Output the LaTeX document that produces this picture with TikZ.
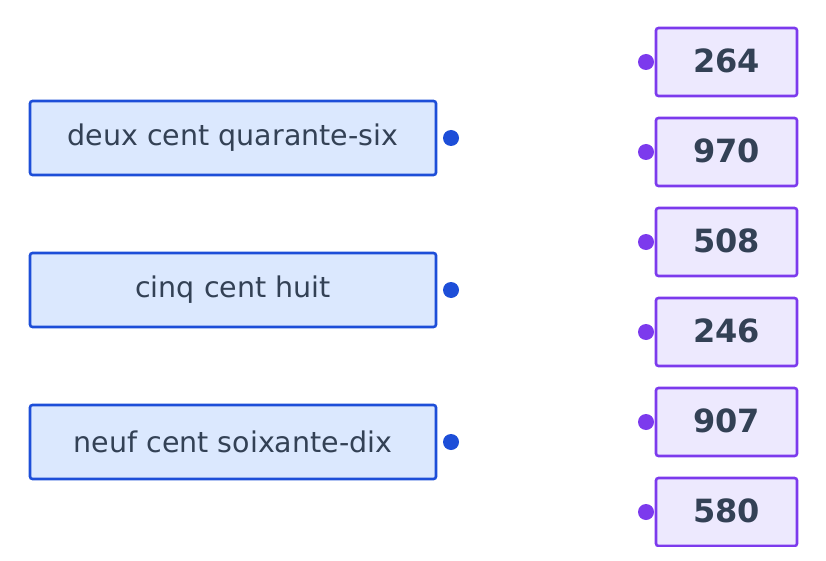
\documentclass[tikz,border=0pt]{standalone}
\usepackage{fontspec}
\setmainfont{DejaVu Sans}
\begin{document}
\begin{tikzpicture}[x=1pt,y=-1pt,
 lbox/.style={draw=lb,fill=lf,line width=2.6pt,rounded corners=2.5pt,minimum width=406pt,minimum height=74pt,text=tx,font=\fontsize{28.5}{32}\selectfont,inner sep=0pt},
 rbox/.style={draw=rb,fill=rf,line width=2.6pt,rounded corners=2.5pt,minimum width=141pt,minimum height=68pt,text=tx,font=\fontsize{32}{36}\selectfont\bfseries,inner sep=0pt},
 ldot/.style={circle,fill=lb,minimum size=16pt,inner sep=0pt},
 rdot/.style={circle,fill=rb,minimum size=16pt,inner sep=0pt}]
\definecolor{lb}{HTML}{1D4ED8}\definecolor{lf}{HTML}{DBE8FE}
\definecolor{rb}{HTML}{7C3AED}\definecolor{rf}{HTML}{EDE9FE}
\definecolor{tx}{HTML}{334155}
\useasboundingbox (0,0) rectangle (826,561);
\node[lbox] (a) at (233,138) {\raisebox{1pt}{deux cent quarante-six}};
\node[lbox] (b) at (233,290) {\raisebox{1pt}{cinq cent huit}};
\node[lbox] (c) at (233,442) {\raisebox{1pt}{neuf cent soixante-dix}};
\node[ldot] (da) at (451,138) {};
\node[ldot] (db) at (451,290) {};
\node[ldot] (dc) at (451,442) {};
\begin{scope}
\clip (0,0) rectangle (826,546.5);
\foreach \n/\t [count=\i] in {r1/264,r2/970,r3/508,r4/246,r5/907,r6/580}{
 \node[rbox] (\n) at (726.5,{62+90*(\i-1)}) {\raisebox{2pt}{\t}};
 \node[rdot] (d\n) at (646,{62+90*(\i-1)}) {};
}
\end{scope}
\end{tikzpicture}
\end{document}
